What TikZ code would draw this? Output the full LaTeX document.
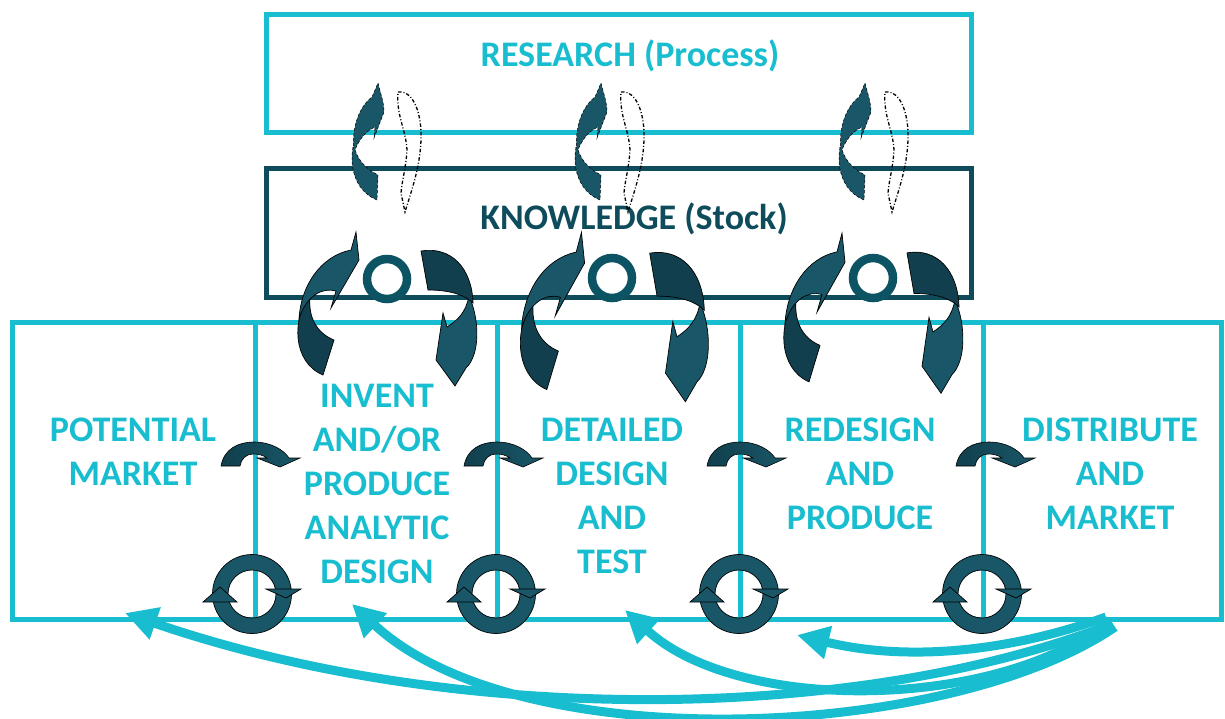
\documentclass[tikz,border=0pt]{standalone}
\usepackage{fontspec}
\setmainfont{Carlito}
\usetikzlibrary{arrows.meta}
\definecolor{cyanline}{RGB}{24,190,207}
\definecolor{knowteal}{RGB}{14,76,92}
\definecolor{ringteal}{RGB}{12,84,100}
\definecolor{arrowlight}{RGB}{25,87,104}
\definecolor{arrowdark}{RGB}{17,63,77}
\tikzset{
  cellbox/.style={draw=cyanline, line width=5pt, minimum height=297pt, inner sep=0pt, outer sep=0pt},
  celltext/.style={text=cyanline, font=\fontsize{36}{44}\selectfont\bfseries, align=center, inner sep=0pt},
  stockring/.style={circle, draw=ringteal, line width=8.5pt, minimum size=40pt, inner sep=0pt},
  shell/.style={draw=black, line width=0.7pt},
  feedback/.style={draw=cyanline, line width=9pt, -{Triangle[length=32pt,width=32pt]}},
  % twin curved arrows beside a ring, sitting on the knowledge box
  knowloop/.pic={
    \filldraw[fill=arrowdark, shell] (-77,17) .. controls (-95,39) and (-95,83) .. (-64,96)
      -- (-53,61) .. controls (-70,54) and (-79,39) .. (-77,17) -- cycle;
    \filldraw[fill=arrowlight, shell] (-88,40) .. controls (-86,6) and (-66,-23) .. (-36,-29)
      -- (-31,-47) -- (-28,-19) -- (-56,29) -- (-51,12) .. controls (-65,8) and (-81,17) .. (-88,40) -- cycle;
    \filldraw[fill=arrowlight, shell] (82,17) .. controls (93,41) and (93,76) .. (79,89)
      -- (68,107) -- (49,81) -- (56,34) -- (60,48) .. controls (71,41) and (79,33) .. (82,17) -- cycle;
    \filldraw[fill=arrowdark, shell] (34,-28) .. controls (64,-33) and (85,-11) .. (86,24)
      .. controls (78,16) and (63,11) .. (41,11) -- cycle;
  },
  % solid and dash-dotted twisted arrows between research and knowledge
  feather/.pic={
    \filldraw[fill=arrowlight, draw=black, line width=0.5pt, densely dashed]
      (-2,-67) .. controls (1,-55) and (4,-47) .. (4,-38) -- (-6,-12) -- (-5,-23)
      .. controls (-14,-19) and (-22,-10) .. (-26,3) .. controls (-29,-24) and (-20,-44) .. (-8,-53) -- cycle;
    \filldraw[fill=arrowlight, draw=black, line width=0.5pt, densely dashed]
      (-27,-3) .. controls (-31,20) and (-23,42) .. (-3,50) -- (-2,25)
      .. controls (-12,20) and (-21,12) .. (-25,0) -- cycle;
    \draw[black, line width=1.3pt, dash pattern=on 3.5pt off 2pt on 1pt off 2pt]
      (18,-58) .. controls (34,-60) and (42,-35) .. (41,-10) .. controls (40,18) and (31,42) .. (25,62)
      -- (21,43) .. controls (22,30) and (26,18) .. (27,0) .. controls (26,-20) and (16,-35) .. (18,-58) -- cycle;
  },
  % small arched arrow across a cell divider
  hop/.pic={
    \path[left color=arrowdark, right color=arrowlight, draw=black, line width=0.6pt]
      (-34,11) .. controls (-31,-6) and (-17,-13) .. (-1,-13) .. controls (16,-13) and (29,-5) .. (34,3)
      -- (45,3) -- (25,12) -- (2,3) -- (12,3) .. controls (8,0) and (3,-1) .. (-2,-1)
      .. controls (-9,-1) and (-14,4) .. (-15,11) -- cycle;
  },
  % circular arrow on the base line of the cells
  cycle/.pic={
    \filldraw[fill=arrowlight, draw=black, line width=0.7pt, even odd rule] (0,0) circle (39.5) (0,0) circle (24);
    \filldraw[fill=arrowlight, draw=black, line width=0.7pt] (-49,8) -- (-32,-7) -- (-15,8) -- cycle;
    \filldraw[fill=arrowlight, draw=black, line width=0.7pt] (14,-5) -- (49,-5) -- (34,4) -- cycle;
  },
}
\begin{document}
\begin{tikzpicture}[x=1pt,y=-1pt]
\useasboundingbox (0,0) rectangle (1225,718);

% upper boxes
\node[draw=cyanline, line width=5pt, minimum width=705pt, minimum height=118pt, inner sep=0pt] (research) at (618.5,73) {};
\node[draw=knowteal, line width=5pt, minimum width=705pt, minimum height=129pt, inner sep=0pt] (knowledge) at (618.5,232.5) {};

% process cells
\node[cellbox, minimum width=243pt] (market) at (133.5,470.5) {};
\node[cellbox, minimum width=242pt] (invent) at (376,470.5) {};
\node[cellbox, minimum width=243pt] (detail) at (618.5,470.5) {};
\node[cellbox, minimum width=243pt] (redesign) at (861.5,470.5) {};
\node[cellbox, minimum width=238pt] (distrib) at (1102,470.5) {};

% labels
\node[celltext, anchor=base] (researchtxt) at (630,66.5) {RESEARCH (Process)};
\node[celltext, text=knowteal, anchor=base] (knowtxt) at (634,229.5) {KNOWLEDGE (Stock)};
\node[celltext] (markettxt) at (133,451.5) {POTENTIAL\\MARKET};
\node[celltext] (inventtxt) at (377,484) {INVENT\\AND/OR\\PRODUCE\\ANALYTIC\\DESIGN};
\node[celltext] (detailtxt) at (612,496) {DETAILED\\DESIGN\\AND\\TEST};
\node[celltext] (redesigntxt) at (860,474) {REDESIGN\\AND\\PRODUCE};
\node[celltext] (distribtxt) at (1110,474) {DISTRIBUTE\\AND\\MARKET};

% research <-> knowledge
\pic at (380,150) {feather};
\pic at (603,150) {feather};
\pic at (867,150) {feather};

% knowledge <-> cells
\node[stockring] (ring1) at (387,279) {};
\node[stockring] (ring2) at (612,278) {};
\node[stockring] (ring3) at (873,278) {};
\pic at (387,279) {knowloop};
\pic[xscale=1.05, yscale=1.1] at (614,284) {knowloop};
\pic[yscale=1.04] at (873,282) {knowloop};

% hand-over between neighbouring cells
\pic at (255,455) {hop};
\pic at (498,455) {hop};
\pic at (741,455) {hop};
\pic at (990,455) {hop};

% iteration inside each step
\pic at (252,594) {cycle};
\pic at (496,594) {cycle};
\pic at (739,594) {cycle};
\pic at (982,594) {cycle};

% feedback from distribution back to earlier steps
\coordinate (s1) at (1112,624);
\coordinate (s2) at (1115,627);
\coordinate (s3) at (1110,620);
\coordinate (s4) at (1106,617);
\coordinate (t1) at (125,613);
\coordinate (t2) at (352,604);
\coordinate (t3) at (625,610);
\coordinate (t4) at (797,635);
\draw[feedback] (s1) .. controls (850,725) and (450,725) .. (t1);
\draw[feedback] (s2) .. controls (950,740) and (520,760) .. (t2);
\draw[feedback] (s3) .. controls (1000,710) and (740,715) .. (t3);
\draw[feedback] (s4) .. controls (1000,655) and (900,660) .. (t4);
\end{tikzpicture}
\end{document}
